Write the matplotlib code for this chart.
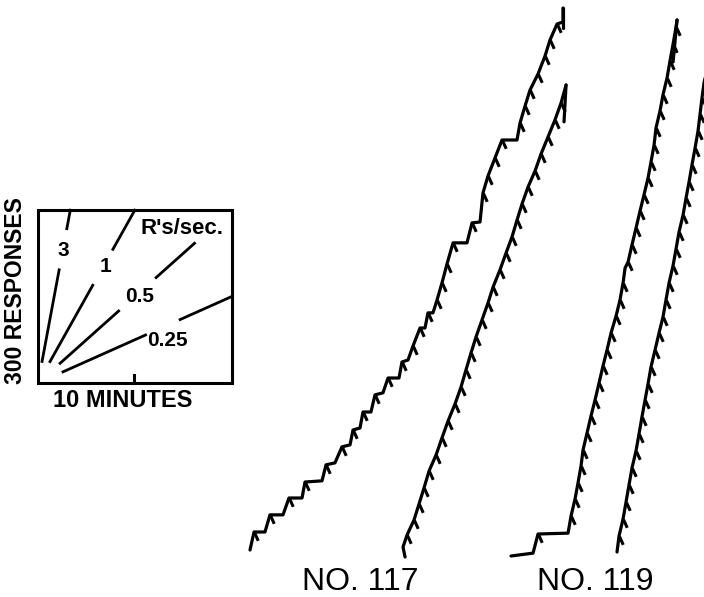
import matplotlib
matplotlib.use('Agg')
import matplotlib.pyplot as plt
import numpy as np
from matplotlib.patches import Rectangle

# cumulative records: minutes from record start, cumulative responses
A_t = [0, 0.42, 1.56, 2.08, 3.44, 4.06, 5.42, 5.73, 7.50, 7.92, 8.85, 9.58, 10.42, 10.73,
       11.46, 11.77, 12.60, 13.02, 13.85, 14.38, 15.52, 15.83, 16.46, 16.98, 17.71, 18.23,
       18.54, 19.06, 19.48, 20.00, 20.52, 21.15, 22.60, 23.13, 23.96, 24.27, 24.79, 25.52,
       26.25, 27.81, 28.13, 28.65, 29.17, 30.00, 30.73, 31.25, 31.98, 32.60, 32.60]
A_r = [0, 63, 63, 123, 123, 182, 182, 238, 242, 298, 305, 361, 368, 420,
       427, 483, 483, 543, 550, 602, 602, 658, 665, 714, 777, 777,
       830, 830, 875, 935, 1001, 1075, 1075, 1145, 1148, 1250, 1309, 1372,
       1435, 1435, 1495, 1554, 1610, 1666, 1729, 1785, 1841, 1848, 1897]
A_pips = [1, 3, 5, 7, 9, 11, 13, 15, 17, 19, 21, 23, 24, 26, 28, 29, 30, 31, 33, 35,
          36, 37, 38, 40, 41, 42, 43, 44, 45, 46]
A_reset = (32.60, 1827)

B_t = [0.21, 0, 0.42, 1.15, 1.67, 2.19, 2.71, 3.44, 4.06, 4.69, 5.42, 6.04, 6.56, 7.08,
       7.60, 8.23, 8.85, 9.38, 10.10, 10.73, 11.35, 11.88, 12.40, 13.02, 13.75, 14.38,
       15.10, 15.83, 16.46, 16.98]
B_r = [0, 35, 77, 130, 186, 242, 301, 357, 417, 476, 536, 595, 655, 714,
       770, 830, 889, 945, 1005, 1064, 1120, 1180, 1236, 1295, 1351, 1411,
       1470, 1530, 1589, 1652]
B_pips = list(range(2, 29))
B_reset = (16.77, 1523)

C_t = [0, 2.29, 2.81, 5.94, 6.25, 6.67, 6.98, 7.29, 7.50, 7.92, 8.33, 8.75, 9.17, 9.58,
       10.00, 10.42, 10.94, 11.35, 11.67, 11.88, 12.19, 12.60, 13.02, 13.44, 13.85, 14.27,
       14.58, 14.90, 15.10, 15.52, 15.83, 16.25, 16.56, 16.88, 17.19, 17.29]
C_r = [0, 10, 77, 80, 140, 200, 256, 315, 371, 431, 490, 546, 606, 665,
       721, 781, 840, 896, 956, 1008, 1029, 1089, 1148, 1208, 1264, 1323,
       1379, 1439, 1498, 1558, 1614, 1673, 1733, 1792, 1852, 1876]
C_pips = [2] + list(range(4, 19)) + list(range(20, 35))
C_reset = (16.88, 1729)

D_t = [0, 0.21, 0.63, 0.94, 1.25, 1.56, 1.98, 2.29, 2.60, 2.92, 3.23, 3.54, 3.96, 4.38,
       4.79, 5.10, 5.42, 5.83, 6.15, 6.46, 6.88, 7.19, 7.50, 7.81, 8.13, 8.44, 8.65,
       8.85, 9.06, 9.17]
D_r = [0, 56, 116, 175, 235, 294, 354, 413, 473, 532, 588, 648, 707, 767,
       823, 882, 942, 1001, 1061, 1120, 1180, 1239, 1295, 1355, 1414, 1474, 1533,
       1589, 1642, 1659]
D_pips = list(range(1, 28))

# legend: response rate guide lines
RATES = [3, 1, 0.5, 0.25]
RATE_LABELS = ['3', '1', '0.5', '0.25']
BOX_MIN = 20.2
BOX_RESP = 605
TICK_MIN = 10

# layout (figure units: minutes across, responses up)
XMAX, YMAX = 73.33, 2089.5
ORIGINS = {'A': (26.04, 164.5), 'B': (41.98, 140), 'C': (53.23, 143.5), 'D': (64.27, 157.5)}
BOX = (3.96, 749)
RATE_SEGS = {3: [(0.42, 2.2), (3.0, 3.36)],
             1: [(1.25, 5.7), (7.8, 10.08)],
             0.5: [(2.3, 8.4), (12.3, 16.3)],
             0.25: [(2.6, 11.2), (14.8, 20.2)]}
RATE_TXT = {3: (2.6, 465), 1: (7.0, 406), 0.5: (10.6, 301), 0.25: (13.5, 150)}

plt.rcParams['font.family'] = ['Liberation Sans', 'DejaVu Sans']

fig = plt.figure(figsize=(7.04, 5.97), dpi=100)
ax = fig.add_axes([0, 0, 1, 1])
ax.set_xlim(0, XMAX)
ax.set_ylim(0, YMAX)
ax.axis('off')

pip = [(0, 0), (0.45, -1)]
records = [('A', A_t, A_r, A_pips, A_reset), ('B', B_t, B_r, B_pips, B_reset),
           ('C', C_t, C_r, C_pips, C_reset), ('D', D_t, D_r, D_pips, None)]
for key, t, r, pips, reset in records:
    ox, oy = ORIGINS[key]
    x = ox + np.array(t)
    y = oy + np.array(r)
    ax.plot(x, y, color='black', lw=2.3, solid_joinstyle='round', solid_capstyle='round')
    ax.plot(x[pips], y[pips], ls='none', marker=pip, ms=12, mew=2.2,
            mec='black', mfc='none')
    if reset is not None:
        ax.plot([x[-1], ox + reset[0]], [y[-1], oy + reset[1]], color='black', lw=2.3,
                solid_capstyle='round')

# legend box
bx, by = BOX
ax.add_patch(Rectangle((bx, by), BOX_MIN, BOX_RESP, fill=False, lw=2.2, ec='black'))
ax.plot([bx + TICK_MIN] * 2, [by, by + 28], color='black', lw=2.2)
for rate, lab in zip(RATES, RATE_LABELS):
    for t0, t1 in RATE_SEGS[rate]:
        tt = np.array([t0, t1])
        ax.plot(bx + tt, by + rate * 60 * tt, color='black', lw=2.0)
    tx, ty = RATE_TXT[rate]
    ax.text(bx + tx, by + ty, lab, ha='center', va='center', fontsize=15, weight='bold')
ax.text(bx + 15.0, by + 542, "R's/sec.", ha='center', va='center', fontsize=16, weight='bold')
ax.text(bx - 2.3, by + 322, '300 RESPONSES', ha='center', va='center', rotation=90,
        fontsize=16.5, weight='bold')
ax.text(bx + 8.85, by - 60, '10 MINUTES', ha='center', va='center', fontsize=17, weight='bold')

ax.text(37.5, 52.5, 'NO. 117', ha='center', va='center', fontsize=23)
ax.text(62.0, 52.5, 'NO. 119', ha='center', va='center', fontsize=23)

fig.savefig('out.png', dpi=100, facecolor='white')
